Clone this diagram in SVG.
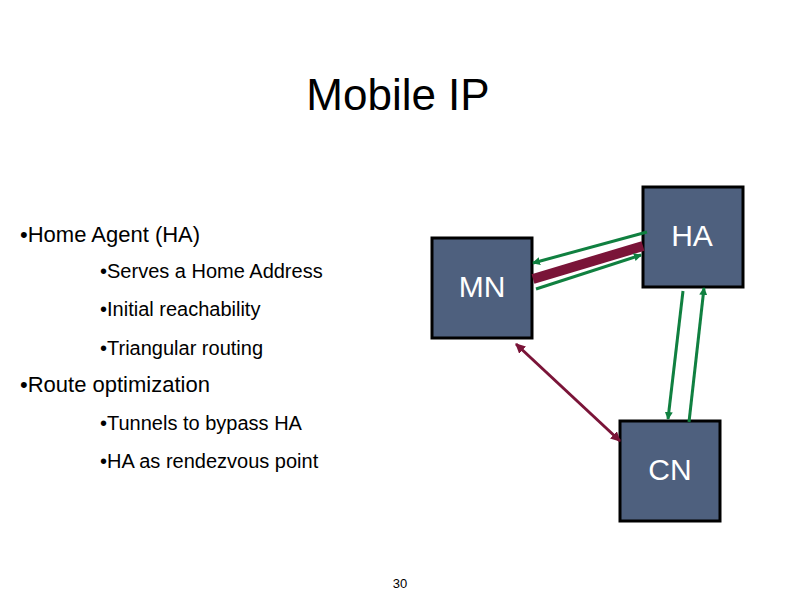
<svg xmlns="http://www.w3.org/2000/svg" width="800" height="600" viewBox="0 0 800 600">
<style>
text{font-family:"Liberation Sans",Arial,sans-serif;fill:#000}
.box{fill:#4e607e;stroke:#000;stroke-width:3}
.lbl{fill:#fff;font-size:30px;text-anchor:middle}
.b1{font-size:22px}.b2{font-size:20px}
.g{stroke:#108040;stroke-width:3;fill:none}
.m{stroke:#7a1438;fill:none}
</style>
<defs>
<marker id="ag" markerWidth="8" markerHeight="8" refX="7" refY="4" orient="auto" markerUnits="userSpaceOnUse"><path d="M0,0L8,4L0,8z" fill="#108040"/></marker>
<marker id="am" markerWidth="10" markerHeight="10" refX="9" refY="5" orient="auto-start-reverse" markerUnits="userSpaceOnUse"><path d="M0,0L10,5L0,10z" fill="#7a1438"/></marker>
</defs>
<text x="398" y="110" font-size="44" text-anchor="middle">Mobile IP</text>
<g id="bullets">
<text x="20" y="242" class="b1">•Home Agent (HA)</text>
<text x="100" y="278" class="b2">•Serves a Home Address</text>
<text x="100" y="316" class="b2">•Initial reachability</text>
<text x="100" y="355" class="b2">•Triangular routing</text>
<text x="20" y="392" class="b1">•Route optimization</text>
<text x="100" y="430" class="b2">•Tunnels to bypass HA</text>
<text x="100" y="468" class="b2">•HA as rendezvous point</text>
</g>
<g id="MN"><rect class="box" x="432" y="238" width="100" height="100"/><text class="lbl" x="482" y="297">MN</text></g>
<g id="HA"><rect class="box" x="643" y="187" width="100" height="100"/><text class="lbl" x="692" y="246">HA</text></g>
<g id="CN"><rect class="box" x="620" y="421" width="100" height="100"/><text class="lbl" x="670" y="480">CN</text></g>
<g id="connectors">
<line class="m" x1="533" y1="279" x2="643" y2="246" stroke-width="10"/>
<line class="g" x1="647" y1="232" x2="533" y2="263" marker-end="url(#ag)"/>
<line class="g" x1="536" y1="289" x2="641" y2="255" marker-end="url(#ag)"/>
<line class="g" x1="683" y1="291" x2="668" y2="419" marker-end="url(#ag)"/>
<line class="g" x1="689" y1="422" x2="704" y2="288" marker-end="url(#ag)"/>
<line class="m" x1="516" y1="344" x2="620" y2="441" stroke-width="3" marker-start="url(#am)" marker-end="url(#am)"/>
</g>
<text x="400" y="588" font-size="13" text-anchor="middle">30</text>
</svg>
